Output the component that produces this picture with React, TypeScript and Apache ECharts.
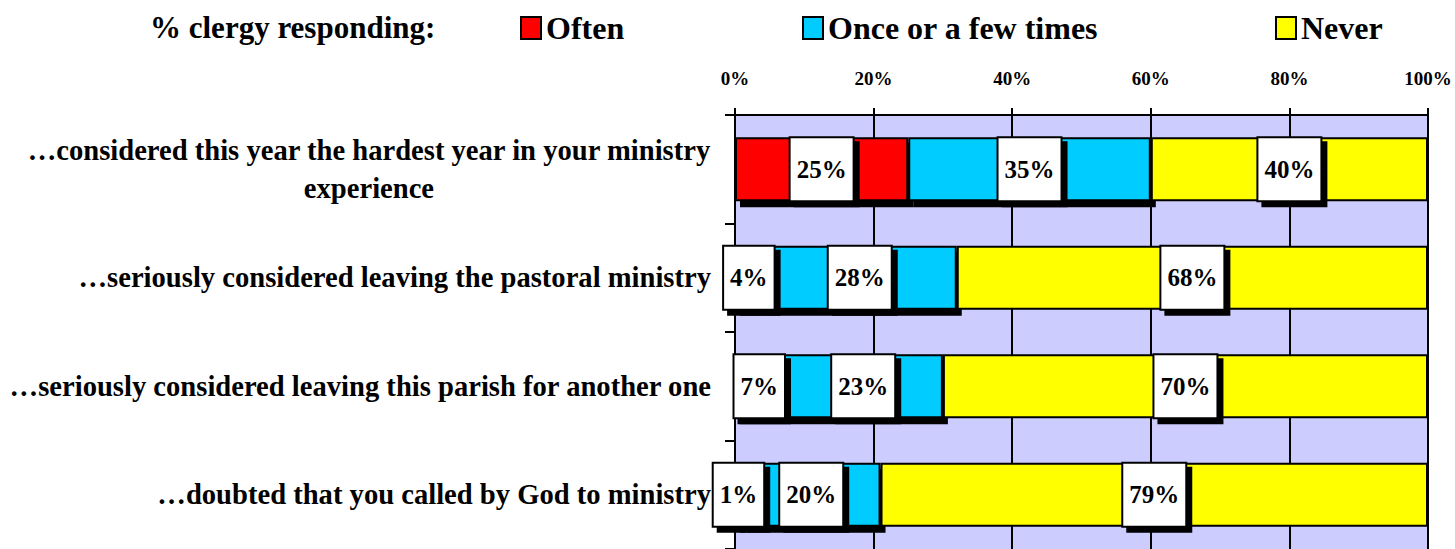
import React, { useEffect, useRef } from "react";
import * as echarts from "echarts";

const categories = [
  "…considered this year the hardest year in your ministry experience",
  "…seriously considered leaving the pastoral ministry",
  "…seriously considered leaving this parish for another one",
  "…doubted that you called by God to ministry",
];
const often = [25, 4, 7, 1];
const onceOrFew = [35, 28, 23, 20];
const never = [40, 68, 70, 79];
const seriesNames = ["Often", "Once or a few times", "Never"];
const legendHeader = "% clergy responding:";

const FONT = "Liberation Serif";

export default function App() {
  const ref = useRef<HTMLDivElement>(null);
  useEffect(() => {
    if (!ref.current) return;
    const chart = echarts.init(ref.current, null, { renderer: "svg" });
    const labelStyle = {
      show: true,
      position: "inside",
      formatter: "{c}%",
      color: "#000",
      fontFamily: FONT,
      fontWeight: "bold",
      fontSize: 25,
      lineHeight: 26,
      backgroundColor: "#fff",
      borderColor: "#000",
      borderWidth: 2,
      padding: [18, 6, 18, 6],
      shadowColor: "#000",
      shadowBlur: 0,
      shadowOffsetX: 5,
      shadowOffsetY: 5,
    };
    const mk = (name: string, data: number[], color: string, shadow: boolean) => ({
      name,
      type: "bar",
      stack: "all",
      data,
      barWidth: 64,
      itemStyle: {
        color,
        borderColor: "#000",
        borderWidth: 2,
        shadowColor: shadow ? "#000" : "transparent",
        shadowBlur: 0,
        shadowOffsetX: shadow ? 5 : 0,
        shadowOffsetY: shadow ? 6 : 0,
      },
      label: labelStyle,
    });
    const legendBase = {
      icon: "rect",
      itemWidth: 20,
      itemHeight: 22,
      top: 12,
      padding: 0,
      textStyle: { fontFamily: FONT, fontWeight: "bold", fontSize: 32, color: "#000" },
      itemStyle: { borderColor: "#000", borderWidth: 2, shadowColor: "transparent", shadowOffsetX: 0, shadowOffsetY: 0 },
    };
    const wrap = (s: string) => {
      if (s.length <= 60) return s;
      const i = s.lastIndexOf(" ");
      return `{c|${s.slice(0, i)}}\n{c|${s.slice(i + 1)}}`;
    };
    chart.setOption({
      animation: false,
      title: {
        text: legendHeader,
        left: 150,
        top: 12,
        padding: 0,
        textStyle: { fontFamily: FONT, fontWeight: "bold", fontSize: 31, color: "#000" },
      },
      legend: [
        { ...legendBase, data: [seriesNames[0]], left: 520 },
        { ...legendBase, data: [seriesNames[1]], left: 802 },
        { ...legendBase, data: [seriesNames[2]], left: 1275 },
      ],
      grid: {
        left: 735,
        right: 27,
        top: 115,
        height: 436,
        show: true,
        backgroundColor: "#CCCCFF",
        borderWidth: 0,
      },
      xAxis: {
        type: "value",
        position: "top",
        min: 0,
        max: 100,
        interval: 20,
        axisLine: { show: true, lineStyle: { color: "#000", width: 2 } },
        axisTick: { show: true, length: 7, lineStyle: { color: "#000", width: 2 } },
        splitLine: { show: true, lineStyle: { color: "#000", width: 2 } },
        axisLabel: {
          formatter: "{value}%",
          fontFamily: FONT,
          fontWeight: "bold",
          fontSize: 19,
          color: "#000",
          margin: 27,
        },
      },
      yAxis: {
        type: "category",
        inverse: true,
        data: categories,
        axisLine: { show: true, lineStyle: { color: "#000", width: 2 } },
        axisTick: { show: true, length: 10, lineStyle: { color: "#000", width: 2 } },
        axisLabel: {
          formatter: wrap,
          fontFamily: FONT,
          fontWeight: "bold",
          fontSize: 28.6,
          color: "#000",
          margin: 24,
          rich: {
            c: {
              align: "center",
              fontFamily: FONT,
              fontWeight: "bold",
              fontSize: 28.6,
              color: "#000",
              lineHeight: 38,
            },
          },
        },
      },
      series: [
        mk(seriesNames[0], often, "#FF0000", true),
        mk(seriesNames[1], onceOrFew, "#00CCFF", true),
        mk(seriesNames[2], never, "#FFFF00", false),
      ],
    });
    return () => chart.dispose();
  }, []);
  return (
    <div
      ref={ref}
      style={{ position: "fixed", left: 0, top: 0, width: 1455, height: 549, background: "#fff" }}
    />
  );
}
